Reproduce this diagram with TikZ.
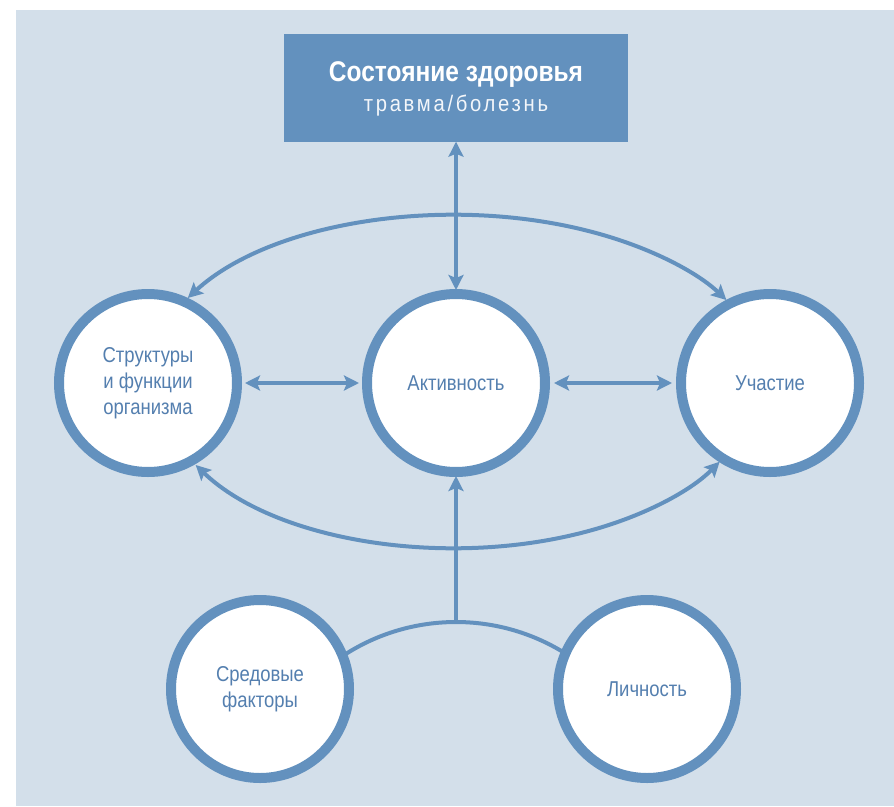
\documentclass[tikz,border=0pt]{standalone}
\usepackage{fontspec}
\setmainfont{Liberation Sans}[FakeStretch=0.86]
\newfontfamily\subfont{Liberation Sans}[FakeStretch=0.9,LetterSpace=12]
\usetikzlibrary{arrows.meta}
\definecolor{bgc}{RGB}{211,223,234}
\definecolor{mainblue}{RGB}{99,145,190}
\definecolor{txtblue}{RGB}{84,127,175}
\tikzset{
  ring/.style={circle, draw=mainblue, line width=10pt, fill=white, minimum size=178pt, inner sep=0pt, align=center, text=txtblue, font=\fontsize{21.5}{26}\selectfont},
  conn/.style={draw=mainblue, line width=4pt},
  tip/.style={-{Stealth[length=15pt,width=15pt,inset=3pt]}},
  dtip/.style={{Stealth[length=15pt,width=15pt,inset=3pt]}-{Stealth[length=15pt,width=15pt,inset=3pt]}},
}
\begin{document}
\begin{tikzpicture}[x=1pt,y=-1pt]
\useasboundingbox (0,0) rectangle (894,806);
\fill[bgc] (16,10) rectangle (894,806);
% health box
\node (box) [fill=mainblue, minimum width=344pt, minimum height=108pt, inner sep=0pt] at (456,87.5) {};
\node (title) [text=white, font=\bfseries\fontsize{28.5}{30}\selectfont] at (456,75) {Состояние здоровья};
\node (sub) [text=white!92!mainblue, font=\subfont\fontsize{22.5}{24}\selectfont] at (456,106) {травма/болезнь};
% centers
\coordinate (ec) at (456,383);
\coordinate (bc) at (456,828);
% big arcs
\draw[conn, dtip] (ec) ++(210.4:311 and 168) arc[start angle=210.4, end angle=330.4, x radius=311, y radius=168];
\draw[conn, dtip] (ec) ++(150.2:300 and 165) arc[start angle=150.2, end angle=28.5, x radius=300, y radius=165];
% bottom joining arc
\draw[conn] (bc) ++(232:206) arc[start angle=232, end angle=308, radius=206];
\coordinate (join) at (456,622);
% circles
\node (body) [ring] at (148,383) {Структуры\\и функции\\организма};
\node (act) [ring] at (456,383) {Активность};
\node (part) [ring] at (770,383) {Участие};
\node (env) [ring] at (260,689) {Средовые\\факторы};
\node (pers) [ring] at (647,689) {Личность};
% arrows
\draw[conn, dtip] (box.south) -- ([yshift=-1pt]act.north);
\draw[conn, tip] (join) -- ([yshift=1pt]act.south);
\draw[conn, dtip] ([xshift=3pt]body.east) -- ([xshift=-3pt]act.west);
\draw[conn, dtip] ([xshift=4pt]act.east) -- ([xshift=-4pt]part.west);
\end{tikzpicture}
\end{document}
